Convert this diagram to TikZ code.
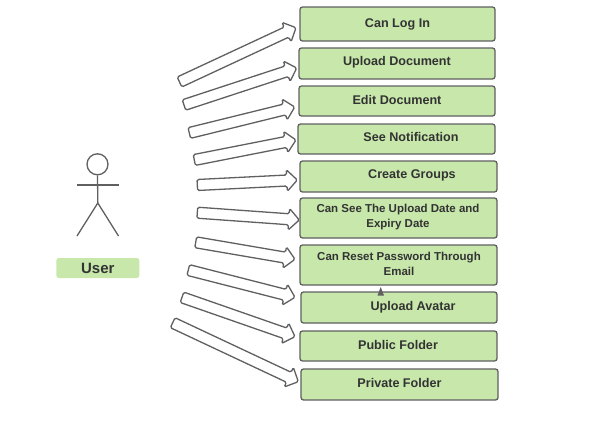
\documentclass[tikz,border=0pt]{standalone}
\usepackage{fontspec}
\setmainfont{Liberation Sans}
\usepackage{tikz}
\usetikzlibrary{calc}
\definecolor{leaf}{HTML}{C7E7AB}
\definecolor{ink}{HTML}{606060}
\definecolor{word}{HTML}{333333}
\tikzset{
  usecase/.style={draw=ink, fill=leaf, line width=1.3pt, rounded corners=2.5pt, inner sep=0pt},
  caption/.style={text=word, font=\bfseries\fontsize{12.6}{15}\selectfont, align=center, inner sep=0pt},
  smallcaption/.style={text=word, font=\bfseries\fontsize{11.5}{14.5}\selectfont, align=center, inner sep=0pt},
  blockarrow/.style={draw=ink, fill=white, line width=1.3pt, rounded corners=1.5pt},
  limb/.style={draw=ink, line width=1.3pt}
}
% #1 tail, #2 tip
\newcommand{\blockarrow}[2]{
  \coordinate (neck) at ($(#2)!10.5pt!(#1)$);
  \draw[blockarrow] ($(#1)!5.5pt!90:(#2)$) -- ($(neck)!5.5pt!90:(#2)$) -- ($(neck)!10.8pt!90:(#2)$)
    -- (#2) -- ($(neck)!10.8pt!-90:(#2)$) -- ($(neck)!5.5pt!-90:(#2)$) -- ($(#1)!5.5pt!-90:(#2)$) -- cycle;
}
\begin{document}
\begin{tikzpicture}[x=1pt, y=-1pt]
  \useasboundingbox (0,0) rectangle (598,431);

  % user
  \node[draw=ink, line width=1.3pt, circle, minimum size=21pt, inner sep=0pt] (head) at (97.5,164.3) {};
  \coordinate (hip) at (97.8,203);
  \coordinate (handl) at (77,185);
  \coordinate (handr) at (118.5,185);
  \coordinate (footl) at (77,236);
  \coordinate (footr) at (118.5,236);
  \draw[limb] (head.south) -- (hip);
  \draw[limb] (handl) -- (handr);
  \draw[limb] (footl) -- (hip) -- (footr);
  \node[fill=leaf, rounded corners=2.5pt, minimum width=83pt, minimum height=20pt, inner sep=0pt,
    text=word, font=\bfseries\fontsize{15}{17}\selectfont] (user) at (97.8,268) {User};

  % boxes
  \foreach \name/\xa/\ya/\xb/\yb/\tx/\ty/\sty/\txt in {
      login/300/7/495/41/397.5/24/caption/{Can Log In},
      upload/299/48/495/79/397/62/caption/{Upload Document},
      edit/299/86/495/116/397/100/caption/{Edit Document},
      notify/298/124/495/154/411/137/caption/{See Notification},
      groups/300/161/497/192/412/175/caption/{Create Groups},
      expiry/300/198/497/238/398/217/smallcaption/{Can See The Upload Date and\\Expiry Date},
      reset/300/245/497/285/399/264/smallcaption/{Can Reset Password Through\\Email},
      avatar/301/292/497/323/413/307/caption/{Upload Avatar},
      public/300/331/497/361/398/345/caption/{Public Folder},
      private/301/369/498/400/399.5/383/caption/{Private Folder}}{
    \draw[usecase] (\xa,\ya) rectangle (\xb,\yb);
    \node[\sty] (\name) at (\tx,\ty) {\txt};
  }

  % block arrows
  \foreach \i/\ax/\ay/\bx/\by in {
      1/179.5/82/296/27.7,
      2/184/105/296.7/68,
      3/189.3/133/294.7/107,
      4/194.3/160/296/140,
      5/197.3/185/297.3/180,
      6/197.3/212.7/299.3/220,
      7/195.7/242.3/295/259.3,
      8/188.3/270/295/297.3,
      9/182/297.3/295/336.7,
      10/172.7/322.7/298.3/381.7}{
    \coordinate (tail\i) at (\ax,\ay);
    \coordinate (tip\i) at (\bx,\by);
    \blockarrow{tail\i}{tip\i}
  }

  % stray head
  \fill[ink] (380.7,287) -- (384,295.5) -- (377.5,295.5) -- cycle;
\end{tikzpicture}
\end{document}
